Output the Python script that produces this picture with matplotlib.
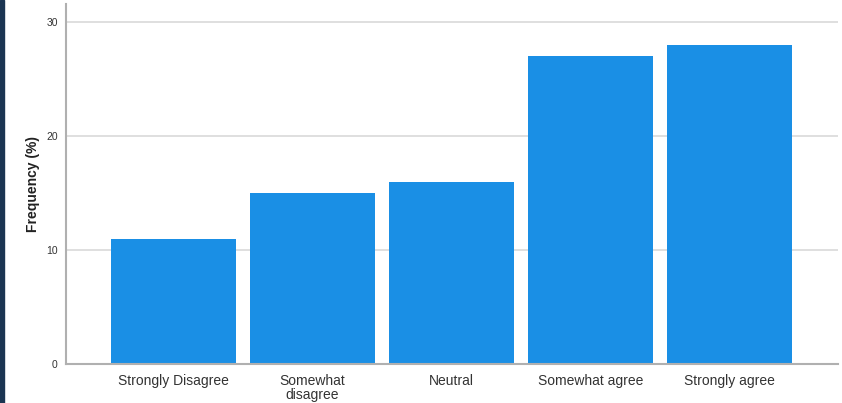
import matplotlib
matplotlib.use("Agg")
import matplotlib.pyplot as plt
from matplotlib.patches import Rectangle

categories = ["Strongly Disagree", "Somewhat\ndisagree", "Neutral", "Somewhat agree", "Strongly agree"]
freq = [11, 15, 16, 27, 28]
yticks = [0, 10, 20, 30]

plt.rcParams['font.family'] = ['Liberation Sans', 'DejaVu Sans']

fig = plt.figure(figsize=(8.42, 4.03), dpi=100)
ax = fig.add_axes([66/842, 39/403, 772/842, 360/403])

# dark strip on the left edge of the picture
fig.patches.append(Rectangle((0, 0), 4/842, 1, transform=fig.transFigure,
                             color='#1b3552', zorder=10))

ax.grid(axis='y', color='#d9d9d9', linewidth=1.2, zorder=0)
ax.bar(range(len(freq)), freq, width=0.9, color='#1a8fe5', zorder=2)

ax.set_xlim(-0.773, 4.78)
ax.set_ylim(0, 31.58)
ax.set_yticks(yticks)
ax.set_xticks(range(len(categories)))
ax.set_xticklabels(categories, fontsize=10, color='#333333', linespacing=1.0)
ax.tick_params(axis='y', labelsize=7.5, colors='#333333', length=0, pad=6)
ax.tick_params(axis='x', length=0, pad=7)
ax.set_ylabel("Frequency (%)", fontsize=10, fontweight='semibold', color='#222222', labelpad=4)

for s in ['top', 'right']:
    ax.spines[s].set_visible(False)
for s in ['left', 'bottom']:
    ax.spines[s].set_color('#b0b0b0')
    ax.spines[s].set_linewidth(1.5)

fig.savefig("out.png", dpi=100)
